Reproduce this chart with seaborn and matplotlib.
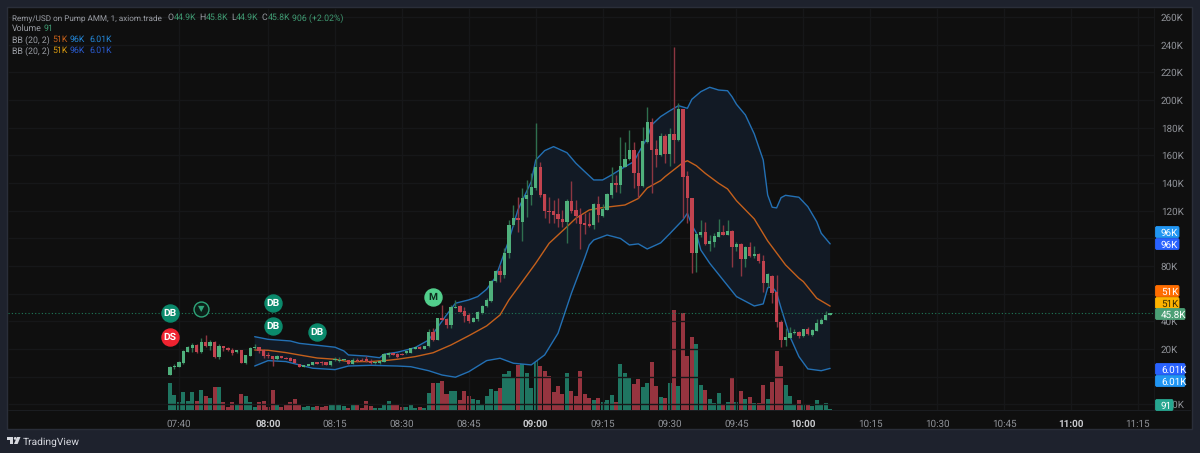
import numpy as np
import pandas as pd
import seaborn as sns
import matplotlib
matplotlib.use("Agg")
import matplotlib.pyplot as plt
from matplotlib.patches import Rectangle, Polygon, Circle, FancyBboxPatch
from matplotlib.transforms import Affine2D

sns.set_theme(style="dark")
plt.rcParams['font.family'] = ['Roboto', 'DejaVu Sans']
plt.rcParams['text.hinting'] = 'no_hinting'

# ---- data (price in thousands, per 1-minute candle from 07:38) ----
first_minute = 7 * 60 + 38
open_k = [1.2,6.8,7.2,9.7,17.9,20.5,23.0,17.6,25.3,22.0, 25.3,14.0,22.2,21.0,19.5,17.6,19.3,9.7,15.2,20.5,
 21.5,19.5,15.7,15.0,12.8,14.8,13.8,13.8,12.6,9.2, 7.2,8.0,8.5,10.4,10.6,10.4,8.2,12.3,11.6,11.9,
 12.1,9.4,12.1,12.1,12.6,11.6,9.9,9.9,10.9,15.7, 16.9,16.6,16.6,16.9,17.4,20.3,21.7,20.0,22.2,32.5,
 26.5,42.2,41.9,37.4,49.9,50.9,47.7,44.4,39.8,41.9, 46.0,51.1,54.7,69.4,76.6,73.5,89.2,109.5,114.7,112.0,
 128.5,131.0,136.4,151.6,132.0,120.0,119.6,117.6,114.2,111.8, 127.0,120.5,116.7,110.9,110.4,109.5,124.6,116.4,120.7,131.1,
 140.0,138.4,151.8,157.2,163.9,147.5,137.9,169.9,183.9,164.4, 160.3,174.0,160.8,175.2,171.1,193.3,145.1,129.2,89.6,102.2,
 104.6,96.2,97.6,101.2,104.6,102.4,105.5,93.5,95.7,85.1, 94.0,87.3,88.7,83.9,67.7,73.0,61.0,39.8,26.3,28.2,
 31.4,32.3,29.4,34.7,30.2,33.0,38.1,41.0,44.9]
close_k = [7.0,8.0,10.4,18.6,21.7,23.0,17.6,25.3,22.0,25.3, 14.3,22.4,20.8,19.3,17.4,19.1,9.9,15.7,21.0,21.5,
 18.6,14.8,15.0,12.6,15.0,13.8,12.8,11.2,10.2,7.2, 8.2,9.0,10.6,9.4,9.7,8.5,11.3,13.0,12.1,12.6,
 9.4,12.3,11.3,11.3,11.2,9.9,10.9,11.6,16.4,16.9, 15.9,14.0,15.9,18.8,20.8,21.5,20.0,22.2,32.5,26.5,
 42.4,41.0,37.4,50.2,50.6,46.8,44.1,40.0,42.7,46.8, 51.3,55.5,69.4,76.6,73.5,89.6,109.5,114.5,113.3,129.0,
 131.3,136.8,151.6,131.3,119.8,119.3,116.9,113.8,111.8,127.2, 119.8,116.2,110.4,109.9,109.2,124.6,116.7,121.2,131.9,140.0,
 138.4,152.3,157.6,163.9,147.0,137.9,170.4,183.9,163.9,160.3, 174.0,160.8,175.2,171.1,193.5,144.6,129.2,89.6,103.0,104.6,
 96.0,98.3,101.7,104.6,102.4,105.3,94.0,96.0,85.3,94.0, 87.3,88.7,83.4,67.7,74.0,60.7,39.6,26.5,28.5,31.6,
 32.3,29.4,34.5,30.9,33.6,38.6,41.0,44.4,45.8]
high_k = [7.7,9.2,11.3,19.3,22.2,24.4,23.7,28.0,30.2,26.5, 25.8,23.7,22.2,21.5,20.8,19.5,19.5,16.0,21.5,23.7,
 21.5,20.0,17.9,15.0,15.7,15.0,14.0,14.0,13.0,9.5, 8.5,9.2,10.8,10.6,11.3,10.6,11.5,14.0,14.0,12.8,
 12.3,13.5,13.5,13.5,14.9,12.8,11.3,12.1,17.2,17.9, 17.2,17.0,17.2,19.0,21.0,21.8,22.0,22.5,34.5,35.2,
 42.4,51.8,42.4,51.8,55.5,51.5,50.4,46.0,43.0,47.5, 51.8,56.9,69.9,77.1,80.8,93.0,113.3,124.1,129.9,136.4,
 142.2,147.3,183.4,155.2,132.0,129.9,127.7,129.2,120.5,128.5, 141.5,127.7,122.0,118.3,119.1,125.6,130.6,124.8,132.8,151.6,
 145.8,173.3,169.7,178.3,169.7,161.7,180.5,195.0,187.0,171.1, 176.2,175.4,179.8,238.3,197.9,193.5,148.7,129.2,103.9,113.3,
 111.8,102.4,103.9,114.0,109.7,113.3,106.0,97.4,96.7,94.5, 97.4,94.5,89.4,88.0,75.0,73.5,73.5,41.0,35.2,35.9,
 34.5,33.0,34.8,35.9,34.5,41.7,42.4,47.7,45.8]
low_k = [1.2,5.6,7.0,9.2,17.9,17.9,17.2,17.2,21.5,19.3, 13.5,12.8,18.6,18.6,15.7,17.2,9.7,9.5,15.0,20.0,
 17.2,13.5,13.5,7.7,12.1,13.5,12.5,11.0,10.0,7.0, 7.0,7.8,8.3,9.2,8.5,8.3,8.0,11.3,10.6,11.6,
 9.2,9.2,10.6,11.0,10.6,9.2,9.2,9.2,10.6,14.3, 15.7,13.8,15.7,16.6,17.2,20.0,19.8,19.8,21.5,25.8,
 26.5,41.0,35.2,35.2,49.7,46.5,39.6,38.8,39.6,40.3, 45.5,50.4,54.0,68.5,68.5,71.4,85.8,109.0,104.6,98.3,
 115.4,124.1,135.0,129.9,114.7,111.1,111.1,108.2,108.2,96.7, 118.3,111.1,92.3,103.2,108.2,106.8,111.8,115.4,120.5,129.2,
 133.5,132.8,151.6,156.6,136.4,129.2,137.1,168.9,132.8,151.6, 159.5,154.5,152.3,154.5,170.4,114.7,111.1,75.0,75.7,101.0,
 95.2,90.9,93.8,101.0,102.4,102.4,79.3,90.9,72.8,79.3, 86.5,85.8,82.2,61.2,64.9,53.3,36.0,21.5,22.2,28.0,
 30.9,28.0,29.0,30.2,29.4,33.0,38.1,41.0,44.9]
volume = [28,15.3,8.3,18.7,10,18.7,10,20.3,14.3,13, 23.3,23.3,8.3,3.7,8.3,6.3,16.7,14.7,9,3.7,
 8.3,9.7,3.3,20.3,6.3,4,6,9,11.7,6.3, 4,4.7,3.7,4.7,3.7,4.7,5.3,5.7,5.3,4.3,
 2.7,6.3,6.3,3,9.3,5,2.3,2.7,7,9.3, 7,6.3,3.7,3.7,6.3,2.7,3.7,2.7,17.7,28,
 27.3,29.7,16.7,19.7,19.7,10.3,19.7,15,11.3,10.3, 7,14.7,21.3,19.7,22.7,36.3,40,33,45.3,53,
 38,22.7,64.3,44.7,39.7,34.3,18.7,24.7,17,37.3, 19.7,15,39.7,16.7,13,11,13,8.3,10.3,15.3,
 9,46.7,38,33,26.7,31.7,23.3,27.3,49,24.7, 13.7,12.7,28,100.7,24.7,97.3,54.3,73.7,66.3,26,
 21,11.7,7.7,17.7,6.7,8.3,34,9,19.7,11.7, 13.3,7.7,7.7,26,11.7,28.7,59.7,44.3,25.3,14.7,
 6.7,11,5.7,6.7,5,11,6.7,7.7,1.3]

upper_idx = [19,22,27,29,33,37,39,40,44,47,48,51,53,55,58,60,62,64,67,69,71,73,74,76,78,81,82,84,86,89,91,93,95,97,99,102,104,105,107,108,110,112,114,116,117,119,121,123,125,126,127,129,131,133,134,135,136,137,138,141,143,145,146,148]
upper_k = [28.9,27.0,25.8,24.1,22.7,21.3,18.6,15.7,14.9,13.7,16.2,17.7,19.3,21.1,26.5,35.7,44.6,53.1,55.5,57.9,63.2,71.9,80.8,98.8,120.5,141.0,156.6,163.4,166.3,161.9,154.3,148.2,142.2,142.2,145.8,151.8,155.4,161.5,172.6,182.0,188.0,192.1,195.9,194.0,200.5,206.0,209.2,207.2,206.7,202.4,196.9,189.2,175.4,156.6,131.3,122.5,122.0,129.4,131.1,129.7,122.9,112.0,103.7,96.0]
basis_idx = [19,22,26,29,33,37,40,45,49,51,55,59,63,67,71,74,76,79,82,85,89,91,94,97,102,105,107,110,111,115,116,118,120,123,125,127,131,134,138,141,142,145,148]
basis_k = [19.3,19.1,17.4,15.7,13.5,12.6,10.9,10.9,11.9,12.6,14.5,17.3,22.9,29.6,36.7,44.6,55.5,68.7,82.0,96.4,108.4,114.5,120.5,122.2,124.1,128.8,136.4,141.7,144.6,154.7,156.1,152.5,147.0,139.8,135.7,127.2,114.0,98.1,80.8,71.2,68.7,56.7,51.0]
lower_idx = [19,22,26,29,32,37,40,45,51,54,58,61,64,67,71,74,77,81,84,87,90,93,94,95,98,101,103,105,107,110,112,115,116,117,118,119,121,124,127,131,133,134,135,136,137,139,141,143,146,148]
lower_k = [7.7,11.6,10.9,8.5,6.1,5.1,7.7,8.2,7.7,7.2,4.3,1.2,-0.4,3.6,11.6,13.3,9.7,8.5,15.7,31.4,60.3,86.0,95.2,98.8,102.4,99.9,95.2,96.0,92.3,96.7,103.2,113.3,118.1,109.7,103.8,91.6,82.0,69.9,57.9,51.1,52.6,64.3,65.0,60.7,49.5,28.9,14.5,5.6,4.3,6.0]

price_ticks = [-20,0,20,40,60,80,100,120,140,160,180,200,220,240,260]
price_hidden = {0, 60, 100}   # these labels sit fully under the price tags in the reference
time_ticks = ["07:40","08:00","08:15","08:30","08:45","09:00","09:15","09:30","09:45","10:00","10:15","10:30","10:45","11:00","11:15"]
bold_ticks = {"08:00","09:00","10:00","11:00"}
last_price = 45.8
badge_minute = [0,0,7,23,23,33,59]
badge_price = [46.0,28.7,48.9,53.3,36.6,32.3,57.6]
badge_text = ["DB","DS","","DB","DB","DB","M"]
badge_fill = ["#0b8a6c","#ef2330","#0c1f18","#0b8a6c","#0b8a6c","#0b8a6c","#52cf8c"]
badge_ink = ["white","white","#2fa57a","white","white","white","#0d2b1d"]

BG, PANE, GRID, EDGE = "#1e222d", "#0f0f0f", "#161719", "#2a2e39"
GREEN, RED, W_GREEN, W_RED = "#4fb07c", "#c2434f", "#2f6f4e", "#8c3641"
V_GREEN, V_RED = "#1f7561", "#96343f"
BAND, MID, FILL = "#2370b4", "#c4601c", "#121a25"

W, H = 1200, 453
fig = plt.figure(figsize=(W/100, H/100), dpi=100, facecolor=BG)
px = Affine2D().scale(1, -1).translate(0, H)   # pixel frame for the window chrome
def fx(x): return x / W
def fy(y): return 1 - y / H

fig.add_artist(Rectangle((7, 7), 1185, 422, transform=px, facecolor=PANE, edgecolor=EDGE, lw=1, zorder=-5))

box = [fx(8), fy(410.7), (1154-8)/W, (410.7-8)/H]
vol_ax = fig.add_axes(box, zorder=1)
ax = fig.add_axes(box, zorder=2)

df = pd.DataFrame({"t": np.arange(len(open_k)) + first_minute, "o": open_k, "h": high_k, "l": low_k, "c": close_k, "v": volume})
df["up"] = df.c >= df.o
xlim = (first_minute - 36.3, first_minute + 220.6)

# volume pane
sns.barplot(data=df, x="t", y="v", hue="up", palette={True: V_GREEN, False: V_RED}, dodge=False,
            native_scale=True, width=0.9, saturation=1, legend=False, linewidth=0, edgecolor="none", ax=vol_ax)
vol_ax.set_xlim(xlim); vol_ax.set_ylim(0, 402.7)
vol_ax.set_facecolor("none"); vol_ax.axis("off")

# price pane
ax.set_facecolor("none")
ax.set_xlim(xlim); ax.set_ylim(-24.6, 266.5)
ux = np.array(upper_idx) + first_minute; bx = np.array(basis_idx) + first_minute; lx = np.array(lower_idx) + first_minute
ax.fill(np.r_[ux, lx[::-1]], np.r_[upper_k, lower_k[::-1]], color=FILL, lw=0, zorder=1)
sns.lineplot(x=ux, y=upper_k, color=BAND, lw=1, ax=ax, estimator=None, sort=False, zorder=2)
sns.lineplot(x=lx, y=lower_k, color=BAND, lw=1, ax=ax, estimator=None, sort=False, zorder=2)
sns.lineplot(x=bx, y=basis_k, color=MID, lw=1, ax=ax, estimator=None, sort=False, zorder=2)

ax.axhline(last_price, color="#1f7a58", lw=0.8, ls=(0, (1, 2)), zorder=2)

ax.vlines(df.t, df.l, df.h, colors=np.where(df.up, W_GREEN, W_RED), lw=1, zorder=3)
ax.bar(df.t, np.maximum(np.abs(df.c - df.o), 0.4), bottom=np.minimum(df.o, df.c), width=0.74,
       color=np.where(df.up, GREEN, RED), lw=0, zorder=4)

# axes ticks
tick_minutes = [7*60+40] + [8*60 + 15*k for k in range(14)]
ax.set_xticks(tick_minutes, time_ticks)
ax.set_yticks(price_ticks, ["" if p in price_hidden else (f"{p}K" if p >= 0 else f"\u2212{-p}K") for p in price_ticks])
ax.yaxis.tick_right()
ax.tick_params(axis="y", length=0, pad=5, labelsize=7.1, labelcolor="#8f9298")
ax.tick_params(axis="x", length=0, pad=6, labelsize=7.1, labelcolor="#8f9298")
for lab in ax.get_xticklabels():
    if lab.get_text() in bold_ticks:
        lab.set_fontweight("bold"); lab.set_color("#c8c9cc")
ax.grid(True, color=GRID, lw=1, zorder=0)
ax.set_axisbelow(True)
for s in ax.spines.values():
    s.set_visible(False)
ax.set_xlabel(""); ax.set_ylabel("")

# signal badges
for m, p, t, f, ink in zip(badge_minute, badge_price, badge_text, badge_fill, badge_ink):
    edge = "#2fa57a" if t == "" else f
    ax.scatter(first_minute + m, p, s=150 if t else 115, color=f, edgecolors=edge, linewidths=1, zorder=6, clip_on=False)
    ax.text(first_minute + m, p - 0.2, t or "\u25bc", color=ink, fontsize=7.4 if t else 6, fontweight="bold",
            ha="center", va="center", zorder=7)

# separators
fig.add_artist(Rectangle((8, 410.2), 1183, 0.8, transform=px, facecolor="#1b1d21", lw=0, zorder=3))
fig.add_artist(Rectangle((1154, 8), 0.8, 402, transform=px, facecolor="#17181a", lw=0, zorder=3))

# price tags on the scale
tags = [("96K",232,1180,"#2196f3","white"),("96K",244,1180,"#2962ff","white"),
        ("51K",291,1180,"#ff6d00","white"),("51K",303,1180,"#ffb300","#3a2c00"),
        ("45.8K",314,1186,"#4c9f75","white"),
        ("6.01K",369,1186,"#2962ff","white"),("6.01K",381,1186,"#2196f3","white"),
        ("91",405,1174,"#26a68f","white")]
for label, y, right, col, ink in tags:
    fig.add_artist(FancyBboxPatch((1155.5, y-5.5), right-1156.5, 11, boxstyle="round,pad=0,rounding_size=1.5",
                                  transform=px, facecolor=col, edgecolor=col, lw=0.6, zorder=8))
    fig.text(fx(1161), fy(y), label, color=ink, fontsize=7.1, ha="left", va="center_baseline", zorder=9)

# header legend
GREY, UPG = "#9a9da4", "#3f9a72"
hdr = [(12,17,"Remy/USD on Pump AMM, 1, axiom.trade",GREY,5.85),(167,17,"O",GREY,6.3),(174,17,"44.9K",UPG,6.3),
       (199,17,"H",GREY,6.3),(205.5,17,"45.8K",UPG,6.3),(231,17,"L",GREY,6.3),(236,17,"44.9K",UPG,6.3),
       (261,17,"C",GREY,6.3),(267.5,17,"45.8K",UPG,6.3),(292,17,"906 (+2.02%)",UPG,6.3),
       (12,28,"Volume",GREY,6.3),(44,28,"91",UPG,6.3),
       (12,39,"BB (20, 2)",GREY,6.3),(52.5,39,"51K","#c8611a",6.3),(70,39,"96K","#2387d8",6.3),(89,39,"6.01K","#2387d8",6.3),
       (12,50,"BB (20, 2)",GREY,6.3),(52.5,50,"51K","#d99a10",6.3),(70,50,"96K","#2a5bd0",6.3),(89,50,"6.01K","#2a5bd0",6.3)]
for x, y, s, c, size in hdr:
    fig.text(fx(x), fy(y), s, color=c, fontsize=size, ha="left", va="center_baseline", zorder=9)

# TradingView mark
LOGO = "#d6d8de"
fig.add_artist(Rectangle((7, 437), 6.2, 2.6, transform=px, facecolor=LOGO, lw=0, zorder=9))
fig.add_artist(Rectangle((10, 437), 3.2, 7, transform=px, facecolor=LOGO, lw=0, zorder=9))
fig.add_artist(Circle((15.2, 438.4), 1.4, transform=px, facecolor=LOGO, lw=0, zorder=9))
fig.add_artist(Polygon([(17, 437), (20.5, 437), (17.6, 444), (14, 444)], transform=px, facecolor=LOGO, lw=0, zorder=9))
fig.text(fx(23), fy(441), "TradingView", color=LOGO, fontsize=7.4, ha="left", va="center_baseline", zorder=9)

fig.savefig("out.png", dpi=100, facecolor=BG)
